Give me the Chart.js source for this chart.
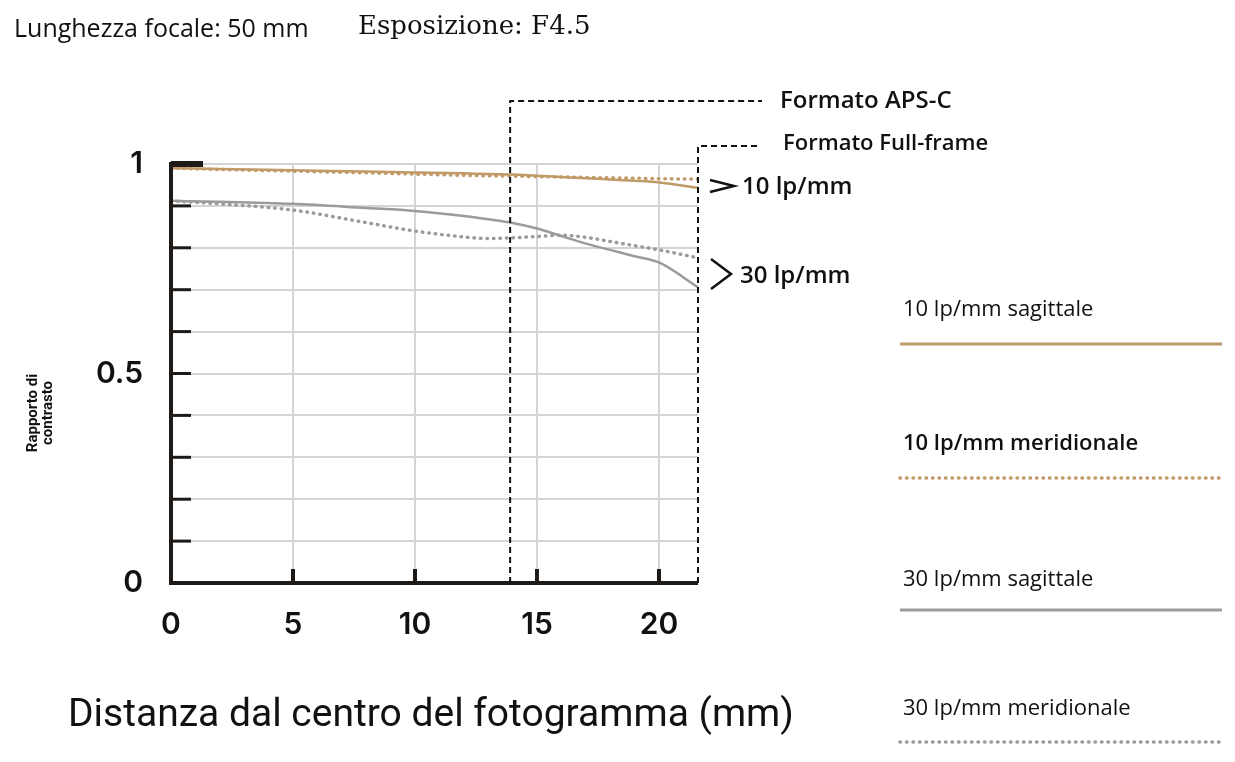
<!DOCTYPE html>
<html><head><meta charset="utf-8">
<script src="https://cdn.jsdelivr.net/npm/chart.js@4"></script>
<style>
body{margin:0;background:#fff;width:1235px;height:762px;overflow:hidden;position:relative;font-family:"Open Sans",sans-serif;color:#111}
#c{position:absolute;left:0;top:0}
.t{position:absolute;white-space:nowrap}
</style></head><body>
<canvas id="c" width="1235" height="762"></canvas>
<div class="t" style="left:14px;top:10px;font-size:25px;font-family:'Open Sans'">Lunghezza focale: 50 mm</div>
<div class="t" style="left:358px;top:10px;font-size:26px;font-family:'DejaVu Serif','Liberation Serif',serif">Esposizione: F4.5</div>
<div class="t" style="left:780px;top:82px;font-size:24px;font-weight:600">Formato APS-C</div>
<div class="t" style="left:783px;top:126px;font-size:22px;font-weight:600">Formato Full-frame</div>
<div class="t" style="left:742px;top:168px;font-size:24px;font-weight:600">10 lp/mm</div>
<div class="t" style="left:740px;top:257px;font-size:24px;font-weight:600">30 lp/mm</div>
<div class="t" style="left:-45px;top:398px;width:170px;text-align:center;transform:rotate(-90deg);font-size:15px;font-weight:700;line-height:15px;font-family:Roboto">Rapporto di<br>contrasto</div>
<div class="t" style="left:68px;top:690px;font-size:39px;font-family:Roboto">Distanza dal centro del fotogramma (mm)</div>
<div class="t" style="left:903px;top:292px;font-size:22px">10 lp/mm sagittale</div>
<div class="t" style="left:903px;top:426px;font-size:22px;font-weight:600">10 lp/mm meridionale</div>
<div class="t" style="left:903px;top:562px;font-size:22px">30 lp/mm sagittale</div>
<div class="t" style="left:903px;top:691px;font-size:22px">30 lp/mm meridionale</div>
<script>
const xs = [0, 2, 5, 8, 10, 12, 13, 14, 15, 16, 17, 18, 19, 20, 21.6];
const sag10 = [0.99, 0.988, 0.985, 0.982, 0.98, 0.978, 0.976, 0.975, 0.972, 0.969, 0.966, 0.963, 0.96, 0.956, 0.943];
const mer10 = [0.99, 0.987, 0.983, 0.979, 0.976, 0.973, 0.972, 0.971, 0.97, 0.969, 0.968, 0.967, 0.966, 0.965, 0.964];
const sag30 = [0.912, 0.91, 0.905, 0.895, 0.888, 0.876, 0.868, 0.859, 0.846, 0.828, 0.81, 0.795, 0.78, 0.765, 0.706];
const mer30 = [0.912, 0.905, 0.89, 0.86, 0.84, 0.826, 0.822, 0.824, 0.827, 0.83, 0.825, 0.815, 0.805, 0.795, 0.776];
const xTicks = [0, 5, 10, 15, 20];
const yTicks = [0, 0.1, 0.2, 0.3, 0.4, 0.5, 0.6, 0.7, 0.8, 0.9, 1];
const yLabels = {0: "0", 0.5: "0.5", 1: "1"};
const apsc = 13.9, fullFrame = 21.6;
const TAN = "#c09a67", GRAY = "#9b9b9b";
const ds = (d, c, dot) => ({data: d.map((v, i) => ({x: xs[i], y: v})), borderColor: c, borderWidth: dot ? 3.5 : 2.5,
  borderDash: dot ? [0.5, 6] : [], borderCapStyle: dot ? "round" : "butt", pointRadius: 0, cubicInterpolationMode: "monotone"});
const extras = {id: "extras", afterDraw(ch) {
  const g = ch.ctx, x = ch.scales.x, y = ch.scales.y, a = ch.chartArea;
  g.save();
  g.strokeStyle = "#1e1a18"; g.lineWidth = 4;
  g.beginPath(); g.moveTo(a.left, a.top - 2); g.lineTo(a.left, a.bottom); g.lineTo(a.right, a.bottom); g.stroke();
  yTicks.forEach(t => { const len = (t === 1) ? 32 : 20; g.lineWidth = (t === 1) ? 6 : 3;
    g.beginPath(); g.moveTo(a.left, y.getPixelForValue(t)); g.lineTo(a.left + len, y.getPixelForValue(t)); g.stroke(); });
  g.lineWidth = 4;
  xTicks.slice(1).forEach(t => { const px = x.getPixelForValue(t); g.beginPath(); g.moveTo(px, a.bottom); g.lineTo(px, a.bottom - 14); g.stroke(); });
  g.strokeStyle = "#111"; g.lineWidth = 2; g.setLineDash([6, 4]);
  let px = x.getPixelForValue(apsc);
  g.beginPath(); g.moveTo(px, a.bottom); g.lineTo(px, 101); g.lineTo(762, 101); g.stroke();
  px = x.getPixelForValue(fullFrame);
  g.beginPath(); g.moveTo(px, a.bottom); g.lineTo(px, 146); g.lineTo(760, 146); g.stroke();
  g.setLineDash([]); g.lineWidth = 2.5;
  g.beginPath(); g.moveTo(710, 180); g.lineTo(734, 186); g.lineTo(710, 192); g.stroke();
  g.beginPath(); g.moveTo(711, 259); g.lineTo(731, 274); g.lineTo(711, 289); g.stroke();
  g.lineWidth = 3; g.strokeStyle = TAN; g.beginPath(); g.moveTo(900, 344); g.lineTo(1222, 344); g.stroke();
  g.strokeStyle = GRAY; g.beginPath(); g.moveTo(900, 610); g.lineTo(1222, 610); g.stroke();
  g.lineWidth = 3.5; g.setLineDash([0.5, 6]); g.lineCap = "round";
  g.strokeStyle = TAN; g.beginPath(); g.moveTo(900, 478); g.lineTo(1222, 478); g.stroke();
  g.strokeStyle = GRAY; g.beginPath(); g.moveTo(900, 742); g.lineTo(1222, 742); g.stroke();
  g.restore();
}};
new Chart(document.getElementById("c"), {
  type: "line",
  data: {datasets: [ds(sag10, TAN, false), ds(mer10, TAN, true), ds(sag30, GRAY, false), ds(mer30, GRAY, true)]},
  options: {responsive: false, animation: false,
    layout: {padding: {left: 0, top: 164, right: 537, bottom: 0}},
    plugins: {legend: {display: false}, tooltip: {enabled: false}},
    scales: {
      x: {type: "linear", min: 0, max: fullFrame, afterBuildTicks: s => { s.ticks = xTicks.map(v => ({value: v})); },
        grid: {color: "#d4d4d4", lineWidth: 2, drawTicks: false}, border: {display: false},
        ticks: {padding: 24, color: "#111", font: {size: 30, weight: "600", family: "Inter"}},
        afterFit: s => { s.height = 179; }},
      y: {min: 0, max: 1, afterBuildTicks: s => { s.ticks = yTicks.map(v => ({value: v})); },
        grid: {color: "#d4d4d4", lineWidth: 2, drawTicks: false}, border: {display: false},
        ticks: {padding: 28, color: "#111", font: {size: 30, weight: "600", family: "Inter"},
          callback: v => yLabels[v] ?? ""},
        afterFit: s => { s.width = 171; }}
    }}, plugins: [extras]
});
</script></body></html>
